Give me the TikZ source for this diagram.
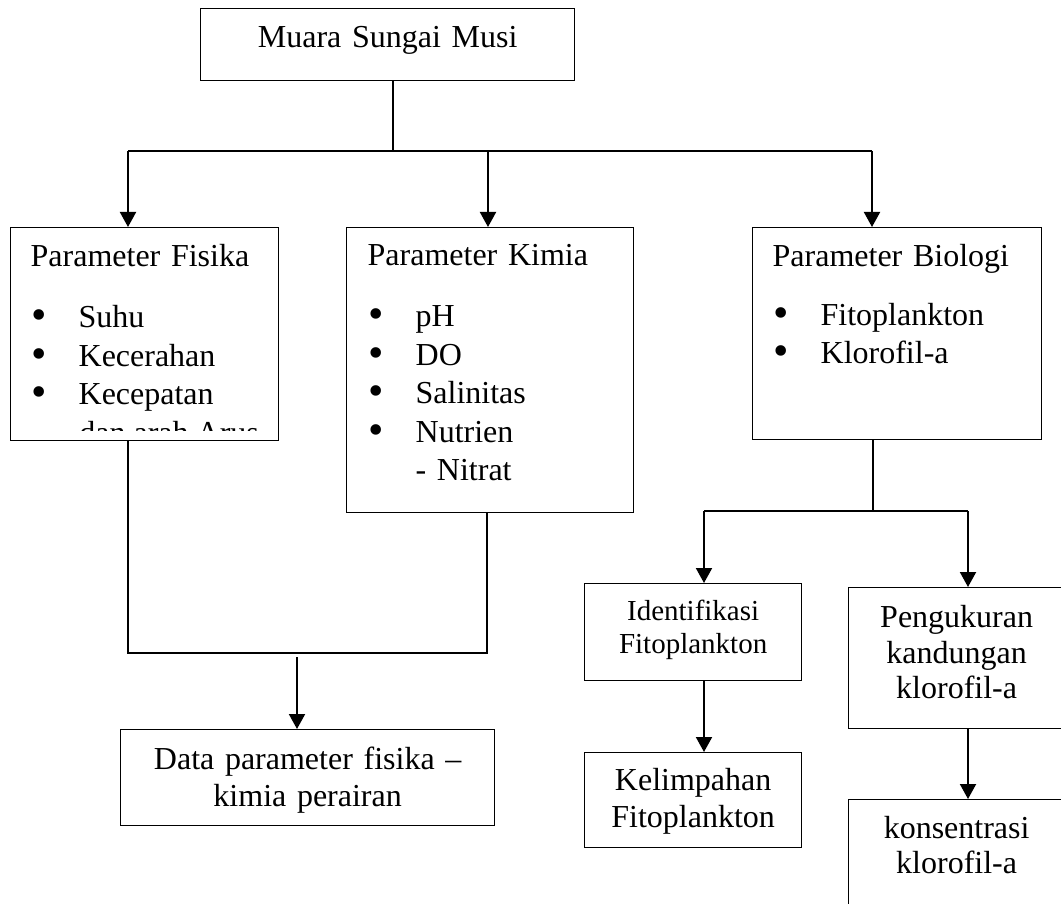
\documentclass[tikz,border=0pt]{standalone}
\usepackage{fontspec}
\setmainfont{Liberation Serif}
\usetikzlibrary{arrows.meta}
\def\setfs#1#2{\fontsize{#1}{#2}\selectfont}
\def\itm#1{\makebox[24pt][l]{\hspace{0.5pt}\raisebox{-1pt}{\setfs{22}{22}\textbullet}}#1}

\begin{document}
\begin{tikzpicture}[x=0.5pt,y=-0.5pt,
				line/.style={line width=1pt},
				arr/.style={line width=1pt,-{Triangle[width=8pt,length=7.5pt]}}]
				\tikzstyle{box}=[draw,line width=0.65pt,rectangle,anchor=north west,inner ysep=0pt]
				\tikzstyle{mid}=[box,inner xsep=0pt,align=center]
				\tikzstyle{list}=[box,inner xsep=10pt,align=left,font=\setfs{16}{19.25}]
				
				\clip (0,0) rectangle (1061,904);
				
				\node[mid,text width=187pt,text height=19.5pt,text depth=16.5pt,font=\setfs{16}{18.5}] (muara) at (200,8) {Muara Sungai Musi};
				
				\node[list,text width=114pt,text height=19.5pt,text depth=87pt] (fisika) at (10,227)
					{Parameter Fisika\\[11.25pt] \itm{Suhu}\\ \itm{Kecerahan}\\ \itm{Kecepatan}};
				\node[list,inner xsep=10.5pt,text width=122.5pt,text height=19pt,text depth=123.5pt] (kimia) at (346,227)
					{Parameter Kimia\\[11.25pt] \itm{pH}\\ \itm{DO}\\ \itm{Salinitas}\\ \itm{Nutrien}\\ \hspace*{24pt}- Nitrat};
				\node[list,text width=124.5pt,text height=19.5pt,text depth=86.5pt] (biologi) at (752,227)
					{Parameter Biologi\\[10pt] \itm{Fitoplankton}\\ \itm{Klorofil-a}};
				\begin{scope}
					\clip (fisika.north west) rectangle ([yshift=5.5pt]fisika.south east);
					\node[anchor=base west,inner sep=0pt,font=\setfs{16}{19.25}] (arus) at (79,443) {dan arah Arus};
				\end{scope}
				
				\node[mid,text width=187pt,text height=20pt,text depth=28pt,font=\setfs{16}{18.5}] (data) at (120,729)
					{Data parameter fisika --\\ kimia perairan};
				\node[mid,text width=108.5pt,text height=18.5pt,text depth=30pt,font=\setfs{14.5}{16.5}] (ident) at (584,583)
					{Identifikasi\\ Fitoplankton};
				\node[mid,text width=108.5pt,text height=19pt,text depth=28.5pt,font=\setfs{16}{18.5}] (kelimpahan) at (584,752)
					{Kelimpahan\\ Fitoplankton};
				\node[mid,text width=108pt,text height=20pt,text depth=50.5pt,font=\setfs{16}{17.75}] (pengukuran) at (848,587)
					{Pengukuran\\ kandungan\\ klorofil-a};
				\node[mid,text width=108pt,text height=19.5pt,text depth=41pt,font=\setfs{16}{17.5}] (konsentrasi) at (848,799)
					{konsentrasi\\ klorofil-a};
				
				\coordinate (j0) at (393,151);
				\coordinate (b1) at (128,151);
				\coordinate (b2) at (488,151);
				\coordinate (b3) at (872,151);
				\coordinate (c1) at (128,653);
				\coordinate (c2) at (487,653);
				\coordinate (c3) at (297,657);
				\coordinate (d0) at (873,511);
				\coordinate (d1) at (704,511);
				\coordinate (d2) at (968,511);
				
				\draw[line] (muara.south -| j0) -- (j0);
				\draw[line] (b1) -- (b3);
				\draw[arr] (b1) -- (b1 |- fisika.north);
				\draw[arr] (b2) -- (b2 |- kimia.north);
				\draw[arr] (b3) -- (b3 |- biologi.north);
				
				\draw[line] (c1 |- fisika.south) -- (c1) -- (c2) -- (c2 |- kimia.south);
				\draw[arr] (c3) -- (c3 |- data.north);
				
				\draw[line] (biologi.south -| d0) -- (d0);
				\draw[line] (d1) -- (d2);
				\draw[arr] (d1) -- (d1 |- ident.north);
				\draw[arr] (d2) -- (d2 |- pengukuran.north);
				\draw[arr] (ident.south -| d1) -- (kelimpahan.north -| d1);
				\draw[arr] (pengukuran.south -| d2) -- (konsentrasi.north -| d2);
\end{tikzpicture}
\end{document}
